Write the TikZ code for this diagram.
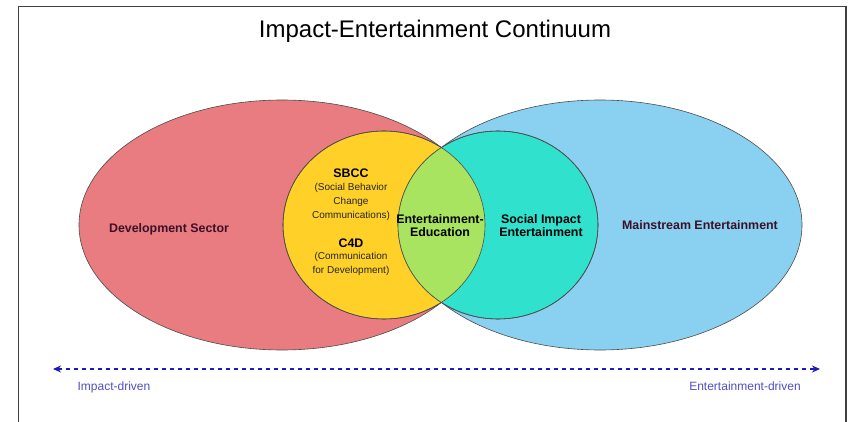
\documentclass[tikz,border=0pt]{standalone}
\usepackage{fontspec}
\setmainfont{Liberation Sans}
\usetikzlibrary{arrows.meta}

\definecolor{devred}{RGB}{232,124,128}
\definecolor{sbccyellow}{RGB}{255,208,40}
\definecolor{socteal}{RGB}{48,226,206}
\definecolor{mainblue}{RGB}{138,208,240}
\definecolor{edugreen}{RGB}{168,228,96}
\definecolor{axisblue}{RGB}{26,26,190}
\definecolor{axistext}{RGB}{80,80,196}
\definecolor{darklabel}{RGB}{60,16,40}

\tikzset{
    region/.style = {draw = black!70, line width = 0.6pt},
    biglabel/.style = {font = \bfseries\fontsize{12.4}{13}\selectfont, align = center},
    smalllabel/.style = {font = \fontsize{10}{14}\selectfont, align = center, text = black!85},
    axislabel/.style = {font = \fontsize{12}{13}\selectfont, text = axistext, anchor = base}
}

\begin{document}
\begin{tikzpicture}[x=1pt,y=-1pt]
            \useasboundingbox (0, 0) rectangle (851, 422);
            \fill[white] (0, 0) rectangle (851, 422);
            \draw[line width = 1.6pt, color = black!75] (18.5, 422) -- (18.5, 6.5) -- (846, 6.5) -- (846, 422);

            \node[font = \fontsize{24}{27}\selectfont, anchor = base] (title) at (435, 38) {Impact-Entertainment Continuum};

            \path[region, fill = devred] (282, 225) ellipse [x radius = 203pt, y radius = 125pt];
            \path[region, fill = mainblue] (600, 225) ellipse [x radius = 202pt, y radius = 125pt];
            \path[region, fill = sbccyellow] (384, 225) ellipse [x radius = 101pt, y radius = 94pt];
            \path[region, fill = socteal] (498, 225) ellipse [x radius = 100pt, y radius = 94pt];
            \begin{scope}
                \clip (384, 225) ellipse [x radius = 101pt, y radius = 94pt];
                \fill[edugreen] (498, 225) ellipse [x radius = 100pt, y radius = 94pt];
            \end{scope}
            \draw[region] (384, 225) ellipse [x radius = 101pt, y radius = 94pt];
            \draw[region] (498, 225) ellipse [x radius = 100pt, y radius = 94pt];

            \node[biglabel, text = darklabel] (devsector) at (169, 229) {Development Sector};
            \node[biglabel, text = darklabel] (mainstream) at (700, 225) {Mainstream Entertainment};
            \node[biglabel] (sbcc) at (351, 173) {SBCC};
            \node[smalllabel] (sbccsub) at (351, 202) {(Social Behavior\\Change\\Communications)};
            \node[biglabel] (cfourd) at (351, 243) {C4D};
            \node[smalllabel] (cfourdsub) at (351, 264) {(Communication\\for Development)};
            \node[biglabel] (edutain) at (440, 225.5) {Entertainment-\\Education};
            \node[biglabel] (socimpact) at (541, 225.5) {Social Impact\\Entertainment};

            \coordinate (impactend) at (53, 369);
            \coordinate (entend) at (820, 369);
            \draw[{Stealth[length = 8pt, width = 7pt]}-{Stealth[length = 8pt, width = 7pt]}, axisblue, line width = 1.3pt, dash pattern = on 4pt off 4pt] (impactend) -- (entend);

            \node[axislabel] (impactlabel) at (114, 390) {Impact-driven};
            \node[axislabel] (entlabel) at (745, 390) {Entertainment-driven};
        \end{tikzpicture}
\end{document}
